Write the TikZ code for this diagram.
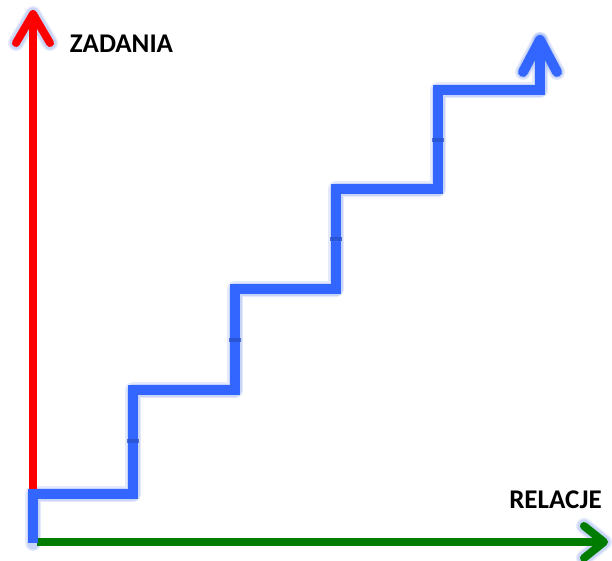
\documentclass[tikz,border=0pt]{standalone}
\usepackage{fontspec}
\setmainfont{Carlito}
\definecolor{stairblue}{RGB}{51,102,255}
\definecolor{jointblue}{RGB}{40,80,200}
\definecolor{axisred}{RGB}{255,0,0}
\definecolor{axisgreen}{RGB}{0,125,0}
\definecolor{glowblue}{RGB}{150,175,240}
\begin{document}
\begin{tikzpicture}[x=1pt,y=-1pt,
  glow/.style={draw=glowblue,line width=16pt,opacity=0.25,line cap=round,line join=round},
  glowin/.style={draw=glowblue,line width=13pt,opacity=0.35,line cap=round,line join=round},
  stairline/.style={draw=stairblue,line width=10.5pt,line join=miter,line cap=butt},
  headblue/.style={draw=stairblue,line width=10pt,line join=round,line cap=round},
  redline/.style={draw=axisred,line width=8pt,line cap=butt},
  redhead/.style={draw=axisred,line width=8pt,line join=round,line cap=round},
  greenline/.style={draw=axisgreen,line width=8pt,line cap=butt},
  greenhead/.style={draw=axisgreen,line width=8pt,line join=round,line cap=round},
  joint/.style={draw=jointblue,line width=4pt,opacity=0.75},
  label/.style={font=\fontsize{27}{30}\selectfont\bfseries,text=black,inner sep=0pt}
]
\useasboundingbox (0,0) rectangle (612,560);
\fill[white] (0,0) rectangle (612,560);
% coordinates
\coordinate (ybot) at (33,490);
\coordinate (ytip) at (33,14);
\coordinate (ywl) at (16,43);
\coordinate (ywr) at (50,43);
\coordinate (xleft) at (37,542);
\coordinate (xtip) at (604,542);
\coordinate (xwu) at (584,526);
\coordinate (xwd) at (584,558);
\coordinate (s0) at (33,543);
\coordinate (s1) at (33,494);
\coordinate (s2) at (133,494);
\coordinate (s3) at (133,390);
\coordinate (s4) at (235,390);
\coordinate (s5) at (235,289);
\coordinate (s6) at (336,289);
\coordinate (s7) at (336,189);
\coordinate (s8) at (438,189);
\coordinate (s9) at (438,90);
\coordinate (s10) at (540,90);
\coordinate (s11) at (540,40);
\coordinate (swl) at (523,72);
\coordinate (swr) at (557,72);
% glows
\foreach \g in {glow,glowin}{
  \path[\g] (ywl) -- (ytip) -- (ywr);
  \path[\g] (xwu) -- (xtip) -- (xwd);
  \path[\g] (s0) -- (s1) -- (s2) -- (s3) -- (s4) -- (s5) -- (s6) -- (s7) -- (s8) -- (s9) -- (s10) -- (s11);
  \path[\g] (swl) -- (s11) -- (swr);
}
% red axis
\path[redline] (ybot) -- (ytip);
\path[redhead] (ywl) -- (ytip) -- (ywr);
% green axis
\path[greenline] (xleft) -- (xtip);
\path[greenhead] (xwu) -- (xtip) -- (xwd);
% stairs
\path[stairline] (s0) -- (s1) -- (s2) -- (s3) -- (s4) -- (s5) -- (s6) -- (s7) -- (s8) -- (s9) -- (s10) -- (s11);
\path[headblue] (swl) -- (s11) -- (swr);
% joints
\path[joint] (127,441) -- (139,441);
\path[joint] (229,340) -- (241,340);
\path[joint] (330,239) -- (342,239);
\path[joint] (432,140) -- (444,140);
% labels
\node[label] (zadania) at (121.5,44) {ZADANIA};
\node[label] (relacje) at (555.5,500) {RELACJE};
\end{tikzpicture}
\end{document}
